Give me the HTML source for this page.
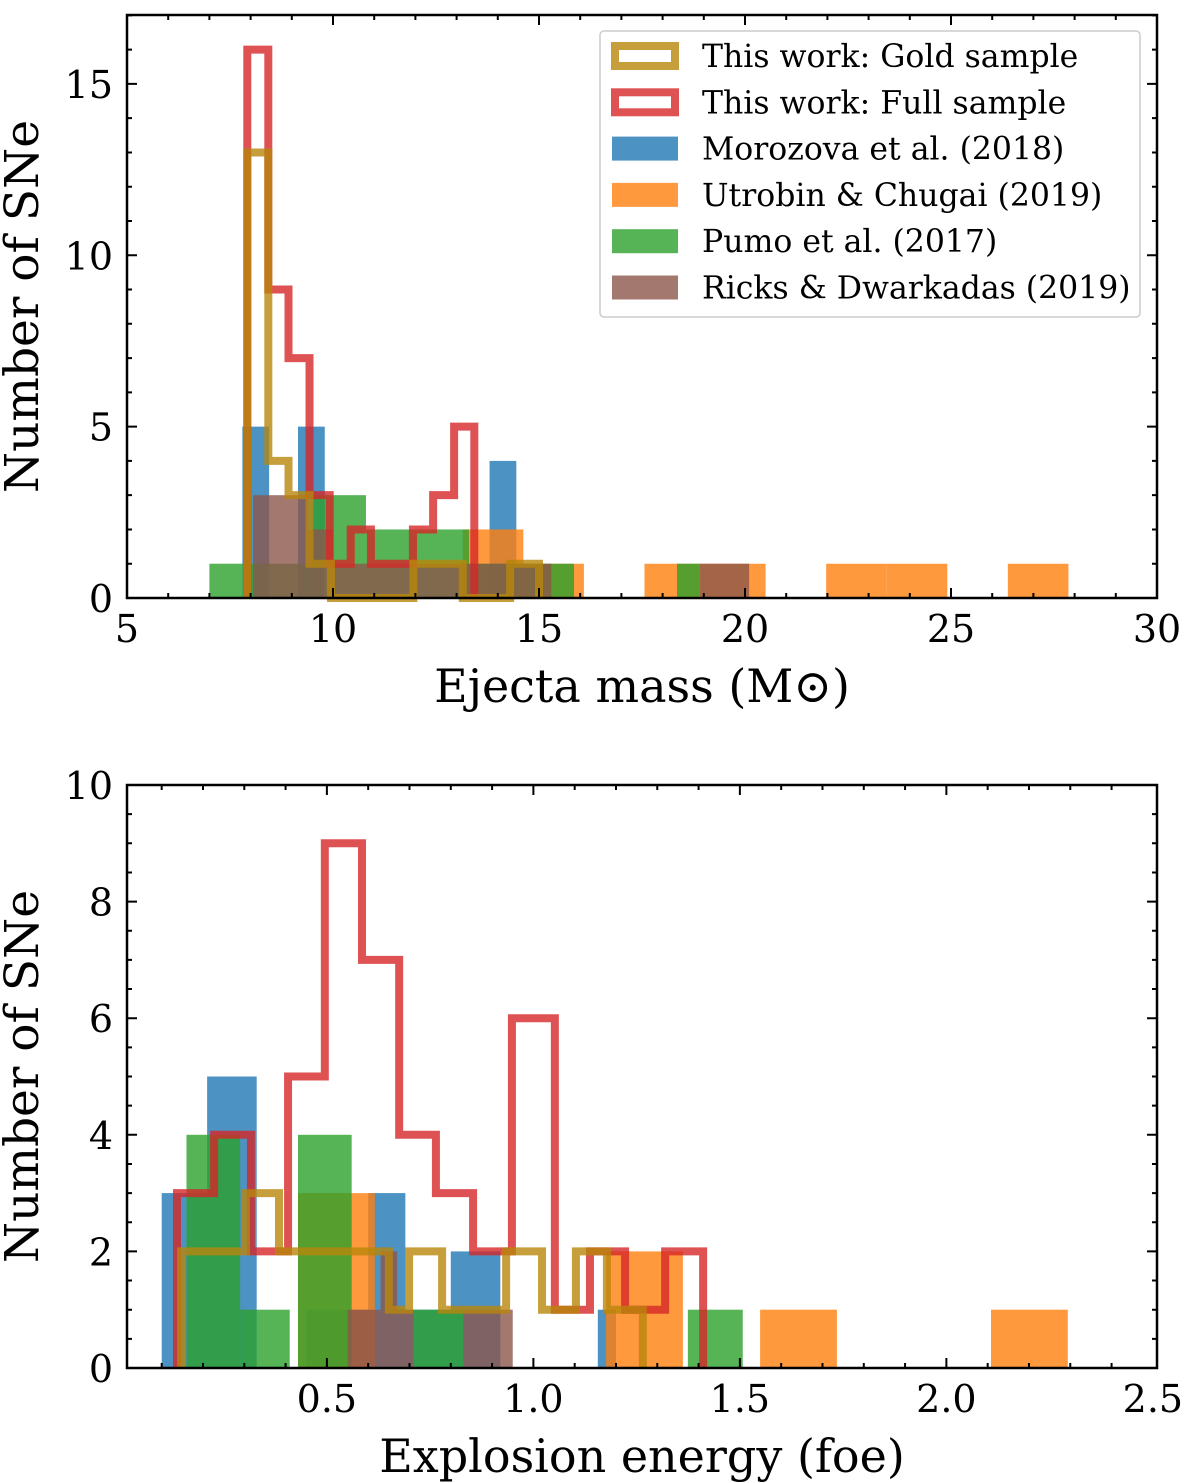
<!DOCTYPE html>
<html><head><meta charset="utf-8">
<style>
body{margin:0;background:#fff;}
svg{display:block;font-family:"DejaVu Serif","Liberation Serif",serif;}
</style></head>
<body>
<svg id="fig" width="1200" height="1483" viewBox="0 0 1200 1483" xmlns="http://www.w3.org/2000/svg"></svg>
<script>
// ---------- Top panel data (ejecta mass, Msun) ----------
const topMorozovaEdges = [7.8, 8.45, 9.15, 9.8, 13.8, 14.45];
const topMorozovaCounts = [5, 0, 5, 0, 4];
const topUtrobinEdges = [13.15, 14.62, 16.09, 17.56, 19.03, 20.5, 21.97, 23.44, 24.91, 26.38, 27.85];
const topUtrobinCounts = [2, 1, 0, 1, 1, 0, 1, 1, 0, 1];
const topPumoEdges = [7.0, 7.8, 9.5, 10.8, 13.3, 14.5, 15.3, 15.85, 18.35, 18.9];
const topPumoCounts = [1, 1, 3, 2, 1, 1, 1, 0, 1];
const topRicksEdges = [8.06, 9.4, 10.0, 14.8, 15.3, 18.9, 20.1];
const topRicksCounts = [3, 2, 1, 1, 0, 1];
const topFullEdges = [7.92, 8.43, 8.92, 9.43, 9.92, 10.43, 10.92, 11.43, 11.94, 12.43, 12.94, 13.43];
const topFullCounts = [16, 9, 7, 3, 1, 2, 1, 1, 2, 3, 5];
const topGoldEdges = [7.92, 8.43, 8.92, 9.43, 9.95, 11.95, 13.15, 14.3, 15.0];
const topGoldCounts = [13, 4, 3, 1, 0, 1, 0, 1];
const topXTicks = [5, 10, 15, 20, 25, 30];
const topYTicks = [0, 5, 10, 15];

// ---------- Bottom panel data (explosion energy, foe) ----------
const botMorozovaEdges = [0.1, 0.21, 0.33, 0.45, 0.6, 0.69, 0.8, 0.92, 1.156, 1.2];
const botMorozovaCounts = [3, 5, 0, 1, 3, 1, 2, 0, 1];
const botUtrobinEdges = [0.430, 0.616, 0.803, 0.989, 1.176, 1.362, 1.549, 1.735, 1.922, 2.108, 2.294];
const botUtrobinCounts = [3, 0, 0, 0, 2, 0, 1, 0, 0, 1];
const botPumoEdges = [0.16, 0.29, 0.41, 0.43, 0.56, 0.71, 0.83, 1.374, 1.507];
const botPumoCounts = [4, 1, 0, 4, 0, 1, 0, 1];
const botRicksEdges = [0.55, 0.63, 0.67, 0.71, 0.83, 0.95];
const botRicksCounts = [1, 2, 1, 0, 1];
const botFullEdges = [0.137, 0.227, 0.316, 0.406, 0.495, 0.585, 0.675, 0.764, 0.854, 0.948, 1.052, 1.137, 1.222, 1.319, 1.411];
const botFullCounts = [3, 4, 2, 5, 9, 7, 4, 3, 2, 6, 1, 2, 1, 2];
const botGoldEdges = [0.147, 0.304, 0.384, 0.650, 0.699, 0.779, 0.934, 1.021, 1.103, 1.178, 1.265];
const botGoldCounts = [2, 3, 2, 1, 2, 1, 2, 1, 2, 1];
const botXTicks = [0.5, 1.0, 1.5, 2.0, 2.5];
const botYTicks = [0, 2, 4, 6, 8, 10];

const legendLabels = ["This work: Gold sample","This work: Full sample","Morozova et al. (2018)","Utrobin & Chugai (2019)","Pumo et al. (2017)","Ricks & Dwarkadas (2019)"];

const C = {blue:'#1f77b4', orange:'#ff7f0e', green:'#2ca02c', brown:'#8c564b', red:'#d62728', gold:'#b8860b'};
const NS = 'http://www.w3.org/2000/svg';
const svg = document.getElementById('fig');
function el(tag, attrs, parent){const e=document.createElementNS(NS,tag);for(const k in attrs)e.setAttribute(k,attrs[k]);(parent||svg).appendChild(e);return e;}

function makeAxes(cfg){
  const g = el('g',{});
  
  
  const X = v => cfg.x0 + (v - cfg.xmin) / (cfg.xmax - cfg.xmin) * (cfg.x1 - cfg.x0);
  const Y = c => cfg.y1 - (c - cfg.ymin) / (cfg.ymax - cfg.ymin) * (cfg.y1 - cfg.y0);
  function bars(edges, counts, color, nm){
    for(let i=0;i<counts.length;i++){
      if(counts[i]<=0) continue;
      const r = el('rect',{x:X(edges[i]),y:Y(counts[i]),width:X(edges[i+1])-X(edges[i]),height:Y(0)-Y(counts[i]),fill:color,'fill-opacity':0.8},g);
      
      
    }
  }
  function step(edges, counts, color, nm){
    let d = 'M'+X(edges[0])+','+Y(0);
    for(let i=0;i<counts.length;i++){ d += ' L'+X(edges[i])+','+Y(counts[i])+' L'+X(edges[i+1])+','+Y(counts[i]); }
    d += ' L'+X(edges[edges.length-1])+','+Y(0);
    const p = el('path',{d:d,fill:'none',stroke:color,'stroke-width':8,'stroke-opacity':0.8,'stroke-linejoin':'miter'},g);
    
    
  }
  cfg.series(bars, step);
  const f = el('rect',{x:cfg.x0,y:cfg.y0,width:cfg.x1-cfg.x0,height:cfg.y1-cfg.y0,fill:'none',stroke:'#000','stroke-width':2.5},g);
  
  
  let tk='';
  for(let v=cfg.xmin; v<=cfg.xmax+1e-9; v+=cfg.xminor){
    const vv=Math.round(v/cfg.xminor)*cfg.xminor; if(vv<cfg.xmin-1e-9) continue;
    const isMaj = Math.abs(vv/cfg.xmajor - Math.round(vv/cfg.xmajor))<1e-6;
    const L = isMaj?10:5, x=X(vv);
    tk+='M'+x+','+cfg.y1+' v'+(-L)+' M'+x+','+cfg.y0+' v'+L+' ';
  }
  for(let v=cfg.ymin; v<=cfg.ymax+1e-9; v+=cfg.yminor){
    const isMaj = Math.abs(v/cfg.ymajor - Math.round(v/cfg.ymajor))<1e-6;
    const L = isMaj?10:5, y=Y(v);
    tk+='M'+cfg.x0+','+y+' h'+L+' M'+cfg.x1+','+y+' h'+(-L)+' ';
  }
  const tp=el('path',{d:tk,stroke:'#000','stroke-width':2,fill:'none'},g);
  
  
  cfg.xticks.forEach(v=>{
    const t=el('text',{x:X(v),y:cfg.y1+44,'text-anchor':'middle','font-size':38,fill:'#000'},g);
    t.textContent = cfg.xfmt(v);
    
    
  });
  cfg.yticks.forEach(v=>{
    const t=el('text',{x:cfg.x0-14,y:Y(v)+14,'text-anchor':'end','font-size':38,fill:'#000'},g);
    t.textContent = String(v);
    
    
  });
  const xl=el('text',{x:(cfg.x0+cfg.x1)/2,y:cfg.y1+104,'text-anchor':'middle','font-size':46,fill:'#000'},g);
  xl.textContent = cfg.xlabel;
  
  
  const cy=(cfg.y0+cfg.y1)/2;
  const yl=el('text',{x:38,y:cy,'text-anchor':'middle','font-size':47,fill:'#000',transform:'rotate(-90 38 '+cy+')'},g);
  yl.textContent = 'Number of SNe';
  
  
  return g;
}

makeAxes({name:'ejecta-mass-panel', x0:127,x1:1157,y0:15,y1:598, xmin:5,xmax:30,ymin:0,ymax:17.01,
  xmajor:5,xminor:1,ymajor:5,yminor:1, xticks:topXTicks, yticks:topYTicks, xfmt:v=>String(v),
  xlabel:'Ejecta mass (M\u2299)',
  series:(bars,step)=>{
    bars(topMorozovaEdges, topMorozovaCounts, C.blue, 'morozova');
    bars(topUtrobinEdges, topUtrobinCounts, C.orange, 'utrobin');
    bars(topPumoEdges, topPumoCounts, C.green, 'pumo');
    bars(topRicksEdges, topRicksCounts, C.brown, 'ricks');
    step(topFullEdges, topFullCounts, C.red, 'full-sample-step');
    step(topGoldEdges, topGoldCounts, C.gold, 'gold-sample-step');
  }});

makeAxes({name:'explosion-energy-panel', x0:127,x1:1157,y0:785,y1:1368, xmin:0.016,xmax:2.51,ymin:0,ymax:10,
  xmajor:0.5,xminor:0.1,ymajor:2,yminor:0.5, xticks:botXTicks, yticks:botYTicks, xfmt:v=>v.toFixed(1),
  xlabel:'Explosion energy (foe)',
  series:(bars,step)=>{
    bars(botMorozovaEdges, botMorozovaCounts, C.blue, 'morozova');
    bars(botUtrobinEdges, botUtrobinCounts, C.orange, 'utrobin');
    bars(botPumoEdges, botPumoCounts, C.green, 'pumo');
    bars(botRicksEdges, botRicksCounts, C.brown, 'ricks');
    step(botFullEdges, botFullCounts, C.red, 'full-sample-step');
    step(botGoldEdges, botGoldCounts, C.gold, 'gold-sample-step');
  }});

const lg = el('g',{});


el('rect',{x:600,y:31,width:540,height:286,rx:4,fill:'#fff','fill-opacity':0.8,stroke:'#ccc','stroke-width':1.5},lg);
const legColors=[C.gold,C.red,C.blue,C.orange,C.green,C.brown];
legendLabels.forEach((lab,i)=>{
  const y=56+i*46.3;
  const sw = i<2 ? el('rect',{x:615,y:y-10,width:60,height:20,fill:'none',stroke:legColors[i],'stroke-width':8,'stroke-opacity':0.8},lg)
                 : el('rect',{x:612,y:y-12,width:66,height:24,fill:legColors[i],'fill-opacity':0.8},lg);
  
  
  const t=el('text',{x:702,y:y+11,'font-size':31.5,fill:'#000'},lg);
  t.textContent=lab;
  
  
});
</script>
</body></html>
